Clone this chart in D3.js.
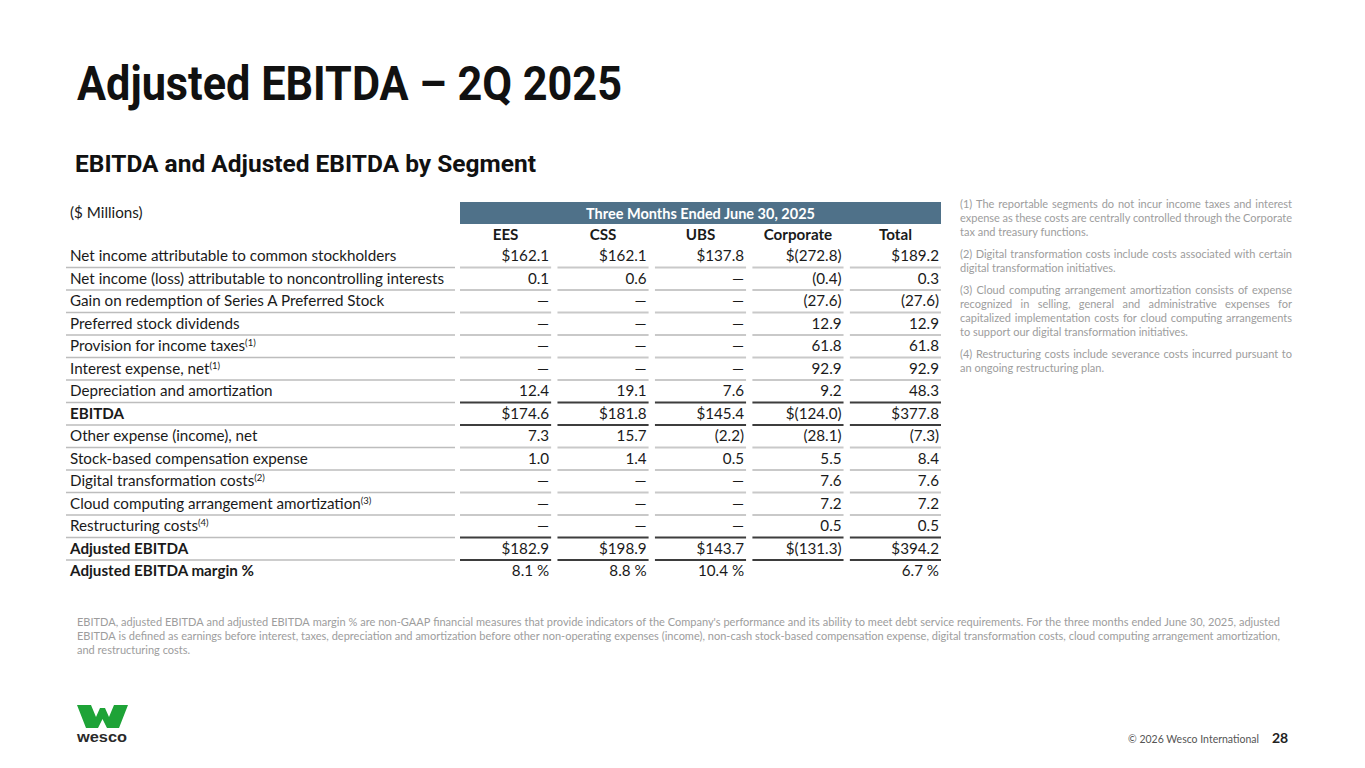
<!DOCTYPE html>
<html>
<head>
<meta charset="utf-8">
<script src="https://cdn.jsdelivr.net/npm/d3@7"></script>
<style>
  body { margin: 0; background: #fff; }
  svg { display: block; }
</style>
</head>
<body>
<svg id="slide" width="1365" height="768"></svg>
<script>
// ---- data ----
var rowLabels = [
  "Net income attributable to common stockholders",
  "Net income (loss) attributable to noncontrolling interests",
  "Gain on redemption of Series A Preferred Stock",
  "Preferred stock dividends",
  "Provision for income taxes",
  "Interest expense, net",
  "Depreciation and amortization",
  "EBITDA",
  "Other expense (income), net",
  "Stock-based compensation expense",
  "Digital transformation costs",
  "Cloud computing arrangement amortization",
  "Restructuring costs",
  "Adjusted EBITDA",
  "Adjusted EBITDA margin %"
];
var rowNotes = ["", "", "", "", "(1)", "(1)", "", "", "", "", "(2)", "(3)", "(4)", "", ""];
var columns = ["EES", "CSS", "UBS", "Corporate", "Total"];
// null = dash, "" = blank
var ees       = [162.1, 0.1, null, null, null, null, 12.4, 174.6, 7.3, 1.0, null, null, null, 182.9, 8.1];
var css       = [162.1, 0.6, null, null, null, null, 19.1, 181.8, 15.7, 1.4, null, null, null, 198.9, 8.8];
var ubs       = [137.8, null, null, null, null, null, 7.6, 145.4, -2.2, 0.5, null, null, null, 143.7, 10.4];
var corporate = [-272.8, -0.4, -27.6, 12.9, 61.8, 92.9, 9.2, -124.0, -28.1, 5.5, 7.6, 7.2, 0.5, -131.3, ""];
var total     = [189.2, 0.3, -27.6, 12.9, 61.8, 92.9, 48.3, 377.8, -7.3, 8.4, 7.6, 7.2, 0.5, 394.2, 6.7];
var boldRows = ["EBITDA", "Adjusted EBITDA", "Adjusted EBITDA margin %"];
var subtotalRows = ["EBITDA", "Adjusted EBITDA"];
var dollarRows = ["Net income attributable to common stockholders", "EBITDA", "Adjusted EBITDA"];
var percentRows = ["Adjusted EBITDA margin %"];

var periodLabel = "Three Months Ended June 30, 2025";
var footnotes = [
  ["(1)  The reportable segments do not incur income taxes and interest",
   "expense as these costs are centrally controlled through the Corporate",
   "tax and treasury functions."],
  ["(2)  Digital transformation costs include costs associated with certain",
   "digital transformation initiatives."],
  ["(3)  Cloud computing arrangement amortization consists of expense",
   "recognized in selling, general and administrative expenses for",
   "capitalized implementation costs for cloud computing arrangements",
   "to support our digital transformation initiatives."],
  ["(4) Restructuring costs include severance costs incurred pursuant to",
   "an ongoing restructuring plan."]
];
var bottomNote = [
  "EBITDA, adjusted EBITDA and adjusted EBITDA margin % are non-GAAP financial measures that provide indicators of the Company's performance and its ability to meet debt service requirements. For the three months ended June 30, 2025, adjusted",
  "EBITDA is defined as earnings before interest, taxes, depreciation and amortization before other non-operating expenses (income), non-cash stock-based compensation expense, digital transformation costs, cloud computing arrangement amortization,",
  "and restructuring costs."
];

var values = { EES: ees, CSS: css, UBS: ubs, Corporate: corporate, Total: total };
var BODY = "Lato, 'Noto Sans', sans-serif";
var HEAD = "Roboto, 'Liberation Sans', sans-serif";

var svg = d3.select("#slide");

// titles
svg.append("text")
  .attr("x", 77).attr("y", 100)
  .attr("textLength", 545).attr("lengthAdjust", "spacingAndGlyphs")
  .style("font-family", HEAD).style("font-weight", 700).style("font-size", "49px")
  .style("fill", "#111")
  .text("Adjusted EBITDA \u2013 2Q 2025");
svg.append("text")
  .attr("x", 75).attr("y", 172)
  .attr("textLength", 461).attr("lengthAdjust", "spacingAndGlyphs")
  .style("font-family", HEAD).style("font-weight", 700).style("font-size", "23px")
  .style("fill", "#111")
  .text("EBITDA and Adjusted EBITDA by Segment");

// ---- table ----
var x = d3.scaleBand().domain(columns).range([460, 941]).paddingInner(0.065);
var y = d3.scaleBand().domain(rowLabels).range([245, 582.5]);
var labelX0 = 66, labelX1 = 455;

function fmt(row, v) {
  if (v === "") return "";
  if (v === null) return "\u2014";
  var s = Math.abs(v).toFixed(1);
  if (v < 0) s = "(" + s + ")";
  if (dollarRows.indexOf(row) >= 0) s = "$" + s;
  if (percentRows.indexOf(row) >= 0) s = s + " %";
  return s;
}

var table = svg.append("g").style("font-family", BODY).style("font-size", "15.2px").style("fill", "#1a1a1a");

table.append("text").attr("x", 70).attr("y", 218).text("($ Millions)");

table.append("rect")
  .attr("x", x.range()[0]).attr("y", 202)
  .attr("width", x.range()[1] - x.range()[0]).attr("height", 22)
  .style("fill", "#4f7189");
table.append("text")
  .attr("x", (x.range()[0] + x.range()[1]) / 2).attr("y", 218.5)
  .attr("text-anchor", "middle")
  .style("fill", "#fff").style("font-weight", 700).style("font-size", "14.5px")
  .text(periodLabel);

table.selectAll("text.colhead").data(columns).enter().append("text")
  .attr("class", "colhead")
  .attr("x", function (c) { return x(c) + x.bandwidth() / 2; })
  .attr("y", 240)
  .attr("text-anchor", "middle")
  .style("font-weight", 700)
  .text(function (c) { return c; });

// rules
var ruleRows = rowLabels.slice(0, rowLabels.length - 1);
table.selectAll("line.lrule").data(ruleRows).enter().append("line")
  .attr("class", "lrule")
  .attr("x1", labelX0).attr("x2", labelX1)
  .attr("y1", function (r) { return y(r) + y.bandwidth(); })
  .attr("y2", function (r) { return y(r) + y.bandwidth(); })
  .style("stroke", "#bdbdbd").style("stroke-width", 1.3);

function isDark(r) {
  var i = rowLabels.indexOf(r);
  return subtotalRows.indexOf(r) >= 0 || subtotalRows.indexOf(rowLabels[i + 1]) >= 0;
}
columns.forEach(function (c) {
  table.selectAll("line.nrule-" + c).data(ruleRows).enter().append("line")
    .attr("class", "nrule-" + c)
    .attr("x1", x(c)).attr("x2", x(c) + x.bandwidth())
    .attr("y1", function (r) { return y(r) + y.bandwidth(); })
    .attr("y2", function (r) { return y(r) + y.bandwidth(); })
    .style("stroke", function (r) { return isDark(r) ? "#3d3d3d" : "#c9c9c9"; })
    .style("stroke-width", 2);
});

// row labels
var labels = table.selectAll("text.rowlabel").data(rowLabels).enter().append("text")
  .attr("class", "rowlabel")
  .attr("x", 70)
  .attr("y", function (r) { return y(r) + y.bandwidth() / 2 + 5; })
  .style("font-weight", function (r) { return boldRows.indexOf(r) >= 0 ? 700 : 400; })
  .text(function (r) { return r; });
labels.filter(function (r, i) { return rowNotes[i] !== ""; })
  .append("tspan")
  .attr("dy", -5)
  .style("font-size", "9.5px")
  .text(function (r) { return rowNotes[rowLabels.indexOf(r)]; });

// values
columns.forEach(function (c) {
  table.selectAll("text.val-" + c).data(values[c]).enter().append("text")
    .attr("class", "val-" + c)
    .attr("x", x(c) + x.bandwidth() - 2)
    .attr("y", function (v, i) { return y(rowLabels[i]) + y.bandwidth() / 2 + 5; })
    .attr("text-anchor", "end")
    .text(function (v, i) { return fmt(rowLabels[i], v); });
});

// ---- justified notes ----
function wordLine(g, str, x0, yy, width, justify) {
  var words = str.split(" ").filter(function (w) { return w !== ""; });
  var t = g.append("text").attr("y", yy);
  if (!justify) { t.attr("x", x0).text(str); return; }
  var lens = words.map(function (w) {
    var p = g.append("text").text(w);
    var l = p.node().getComputedTextLength();
    p.remove();
    return l;
  });
  var gap = (width - d3.sum(lens)) / (words.length - 1);
  if (gap < 2) {
    // too tight: squeeze the whole line instead
    t.attr("x", x0).attr("textLength", width).attr("lengthAdjust", "spacingAndGlyphs").text(str);
    return;
  }
  var cx = x0;
  words.forEach(function (w, i) {
    t.append("tspan").attr("x", cx).text(w);
    cx += lens[i] + gap;
  });
}

var notes = svg.append("g").style("font-family", BODY).style("font-size", "11px").style("fill", "#9d9d9d");
var ny = 208;
footnotes.forEach(function (para) {
  para.forEach(function (line, i) {
    wordLine(notes, line, 960, ny, 332, i < para.length - 1);
    ny += 14;
  });
  ny += 8;
});

var bottom = svg.append("g").style("font-family", BODY).style("font-size", "11px").style("fill", "#9d9d9d");
bottomNote.forEach(function (line, i) {
  wordLine(bottom, line, 77, 626 + i * 14, 1203, i < bottomNote.length - 1);
});

// ---- footer ----
var logo = svg.append("g").attr("transform", "translate(77,705)");
logo.append("polygon")
  .attr("points", "0,0 14,0 19,12 23,3 28,3 32,12 37,0 51,0 42,23 30,23 25.5,14 21,23 9,23")
  .style("fill", "#1ea337");
logo.append("text")
  .attr("x", 25).attr("y", 37).attr("text-anchor", "middle")
  .attr("textLength", 50).attr("lengthAdjust", "spacingAndGlyphs")
  .style("font-family", "'Liberation Sans', sans-serif").style("font-weight", 700).style("font-size", "15px")
  .style("fill", "#2a2a2a")
  .text("wesco");

svg.append("text")
  .attr("x", 1259).attr("y", 743).attr("text-anchor", "end")
  .style("font-family", BODY).style("font-size", "10.5px").style("fill", "#555")
  .text("\u00a9 2026 Wesco International");
svg.append("text")
  .attr("x", 1272).attr("y", 743)
  .style("font-family", BODY).style("font-weight", 700).style("font-size", "14px").style("fill", "#222")
  .text("28");
</script>
</body>
</html>
